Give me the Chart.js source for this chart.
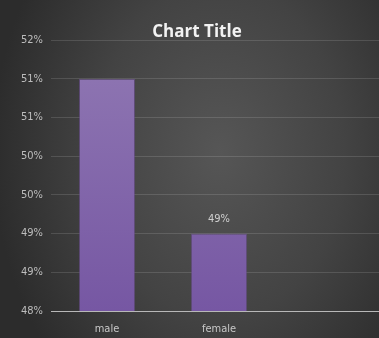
<!DOCTYPE html>
<html>
<head>
<meta charset="utf-8">
<script src="https://cdn.jsdelivr.net/npm/chart.js@4/dist/chart.umd.min.js"></script>
<style>
    html, body { margin: 0; padding: 0; overflow: hidden; }
    body {
        width: 379px; height: 338px;
        background: radial-gradient(ellipse 60% 90% at 58% 45%, #565656 0%, #434343 55%, #2c2c2c 100%);
    }
    #wrap { position: relative; width: 394px; height: 338px; }
</style>
</head>
<body>
<div id="wrap"><canvas id="chart"></canvas></div>
<script>
// Chart data
const categories = ['male', 'female', ''];
const values = [51, 49, null];
const labelled = [false, true, false]; // only female shows a data label
const yMin = 48;
const yMax = 51.5;
const yStep = 0.5;

const FONT = "'Liberation Sans Narrow', 'DejaVu Sans Condensed', sans-serif";

// Title + data labels drawn after the chart
const overlayPlugin = {
    id: 'overlay',
    afterDatasetsDraw(chart) {
        const ctx = chart.ctx;
        ctx.save();
        ctx.fillStyle = '#d0d0d0';
        ctx.font = '11px ' + FONT;
        ctx.textAlign = 'center';
        ctx.textBaseline = 'bottom';
        chart.getDatasetMeta(0).data.forEach((bar, i) => {
            if (!labelled[i] || values[i] == null) return;
            ctx.fillText(Math.round(values[i]) + '%', bar.x, bar.y - 9);
        });
        ctx.fillStyle = '#f2f2f2';
        ctx.font = "bold 17px 'Open Sans', 'DejaVu Sans', sans-serif";
        ctx.textBaseline = 'middle';
        ctx.fillText('Chart Title', 197, 32);
        ctx.restore();
    }
};

function barGradient(context) {
    const chart = context.chart;
    const area = chart.chartArea;
    if (!area) return '#8468ab';
    const g = chart.ctx.createLinearGradient(0, area.top, 0, area.bottom);
    g.addColorStop(0, '#9078b3');
    g.addColorStop(1, '#7657a3');
    return g;
}

new Chart(document.getElementById('chart'), {
    type: 'bar',
    data: {
        labels: categories,
        datasets: [{
            data: values,
            backgroundColor: barGradient,
            borderColor: 'rgba(110, 80, 150, 0.6)',
            borderWidth: 1,
            categoryPercentage: 1,
            barPercentage: 0.5
        }]
    },
    options: {
        responsive: true,
        maintainAspectRatio: false,
        animation: false,
        layout: { padding: { top: 40, right: 7, left: 0, bottom: 0 } },
        plugins: {
            legend: { display: false },
            title: { display: false },
            tooltip: { enabled: false }
        },
        scales: {
            y: {
                min: yMin,
                max: yMax,
                ticks: {
                    stepSize: yStep,
                    color: '#bdbdbd',
                    font: { family: FONT, size: 11 },
                    padding: 8,
                    callback: v => Math.round(v) + '%'
                },
                grid: { color: 'rgba(255,255,255,0.13)', drawTicks: false, tickLength: 0 },
                border: { display: false },
                afterFit(scale) { scale.width = 51; }
            },
            x: {
                ticks: {
                    color: '#c8c8c8',
                    font: { family: FONT, size: 11 },
                    padding: 4
                },
                grid: { display: false },
                border: { display: true, color: '#b8b8b8', width: 1 },
                afterFit(scale) { scale.height = 27; }
            }
        }
    },
    plugins: [overlayPlugin]
});
</script>
</body>
</html>
